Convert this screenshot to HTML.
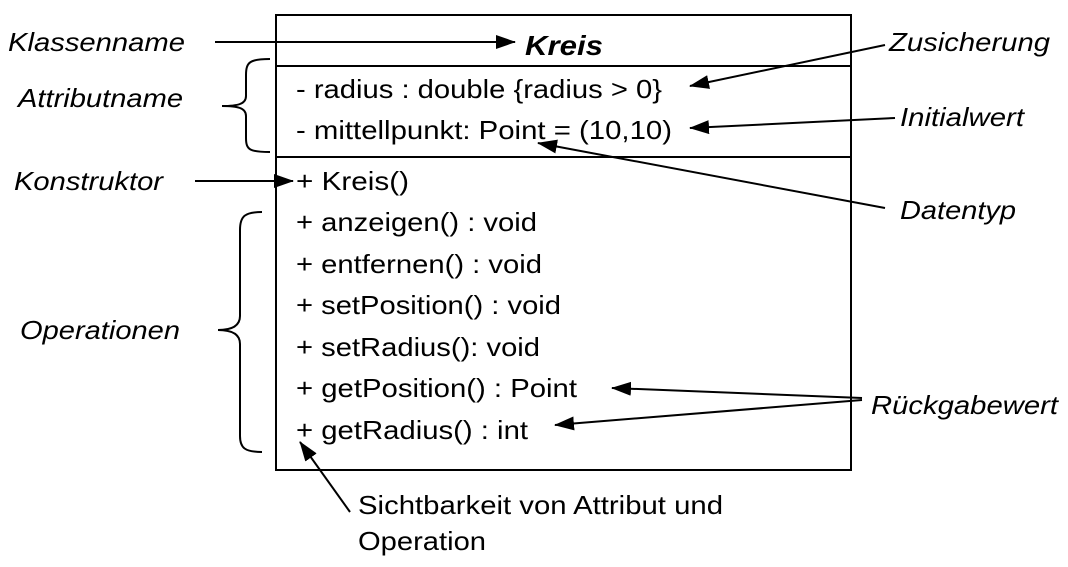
<!DOCTYPE html>
<html><head><meta charset="utf-8"><style>
html,body{margin:0;padding:0;background:#fff;}
svg text{font-family:"Liberation Sans",Arial,sans-serif;font-size:26px;fill:#000;}
.i{font-style:italic;}
</style></head><body>
<svg width="1068" height="562" viewBox="0 0 1068 562" xmlns="http://www.w3.org/2000/svg">
<defs>
<marker id="b" markerWidth="20" markerHeight="14" refX="19" refY="7" orient="auto" markerUnits="userSpaceOnUse" viewBox="0 0 20 14"><path d="M0,0 L20,7 L0,14 Z" fill="#000"/></marker></defs>
<rect x="276" y="15" width="575" height="455" fill="none" stroke="#000" stroke-width="2"/>
<line x1="276" y1="66" x2="851" y2="66" stroke="#000" stroke-width="2"/>
<line x1="276" y1="157" x2="851" y2="157" stroke="#000" stroke-width="2"/>
<text x="525" y="55" textLength="78" lengthAdjust="spacingAndGlyphs" style="font-weight:bold;font-style:italic;font-size:28px">Kreis</text>
<g lengthAdjust="spacingAndGlyphs">
<text x="296" y="98" textLength="366" lengthAdjust="spacingAndGlyphs">- radius : double {radius &gt; 0}</text>
<text x="296" y="139" textLength="376" lengthAdjust="spacingAndGlyphs">- mittellpunkt: Point = (10,10)</text>
<text x="296" y="190" textLength="113" lengthAdjust="spacingAndGlyphs">+ Kreis()</text>
<text x="296" y="231" textLength="241" lengthAdjust="spacingAndGlyphs">+ anzeigen() : void</text>
<text x="296" y="273" textLength="246" lengthAdjust="spacingAndGlyphs">+ entfernen() : void</text>
<text x="296" y="314" textLength="265" lengthAdjust="spacingAndGlyphs">+ setPosition() : void</text>
<text x="296" y="356" textLength="244" lengthAdjust="spacingAndGlyphs">+ setRadius(): void</text>
<text x="296" y="397" textLength="281" lengthAdjust="spacingAndGlyphs">+ getPosition() : Point</text>
<text x="296" y="439" textLength="232" lengthAdjust="spacingAndGlyphs">+ getRadius() : int</text>
<text class="i" x="8" y="51" textLength="177" lengthAdjust="spacingAndGlyphs">Klassenname</text>
<text class="i" x="18" y="107" textLength="165" lengthAdjust="spacingAndGlyphs">Attributname</text>
<text class="i" x="14" y="190" textLength="149" lengthAdjust="spacingAndGlyphs">Konstruktor</text>
<text class="i" x="20" y="339" textLength="160" lengthAdjust="spacingAndGlyphs">Operationen</text>
<text class="i" x="889" y="51" textLength="161" lengthAdjust="spacingAndGlyphs">Zusicherung</text>
<text class="i" x="900" y="126" textLength="124" lengthAdjust="spacingAndGlyphs">Initialwert</text>
<text class="i" x="900" y="219" textLength="116" lengthAdjust="spacingAndGlyphs">Datentyp</text>
<text class="i" x="871" y="414" textLength="187" lengthAdjust="spacingAndGlyphs">Rückgabewert</text>
<text x="358" y="514" textLength="365" lengthAdjust="spacingAndGlyphs">Sichtbarkeit von Attribut und</text>
<text x="358" y="550" textLength="128" lengthAdjust="spacingAndGlyphs">Operation</text>
</g>
<g stroke="#000" stroke-width="2" fill="none">
<path d="M270,59 C250,59 246,62 246,75 L246,96 C246,104 238,106 222,106 C238,106 246,108 246,116 L246,138 C246,150 250,152 270,152"/>
<path d="M262,212 C245,212 240,216 240,230 L240,316 C240,326 232,330 218,330 C232,330 240,334 240,344 L240,436 C240,448 245,452 262,452"/>
<line x1="215" y1="42" x2="515" y2="42" marker-end="url(#b)"/>
<line x1="885" y1="45" x2="690" y2="86" marker-end="url(#b)"/>
<line x1="895" y1="118" x2="690" y2="128" marker-end="url(#b)"/>
<line x1="885" y1="208" x2="538" y2="143" marker-end="url(#b)"/>
<line x1="195" y1="181" x2="293" y2="181" marker-end="url(#b)"/>
<line x1="862" y1="398" x2="612" y2="388" marker-end="url(#b)"/>
<line x1="862" y1="400" x2="555" y2="425" marker-end="url(#b)"/>
<line x1="350" y1="512" x2="300" y2="442" marker-end="url(#b)"/>
</g>
</svg>
</body></html>
